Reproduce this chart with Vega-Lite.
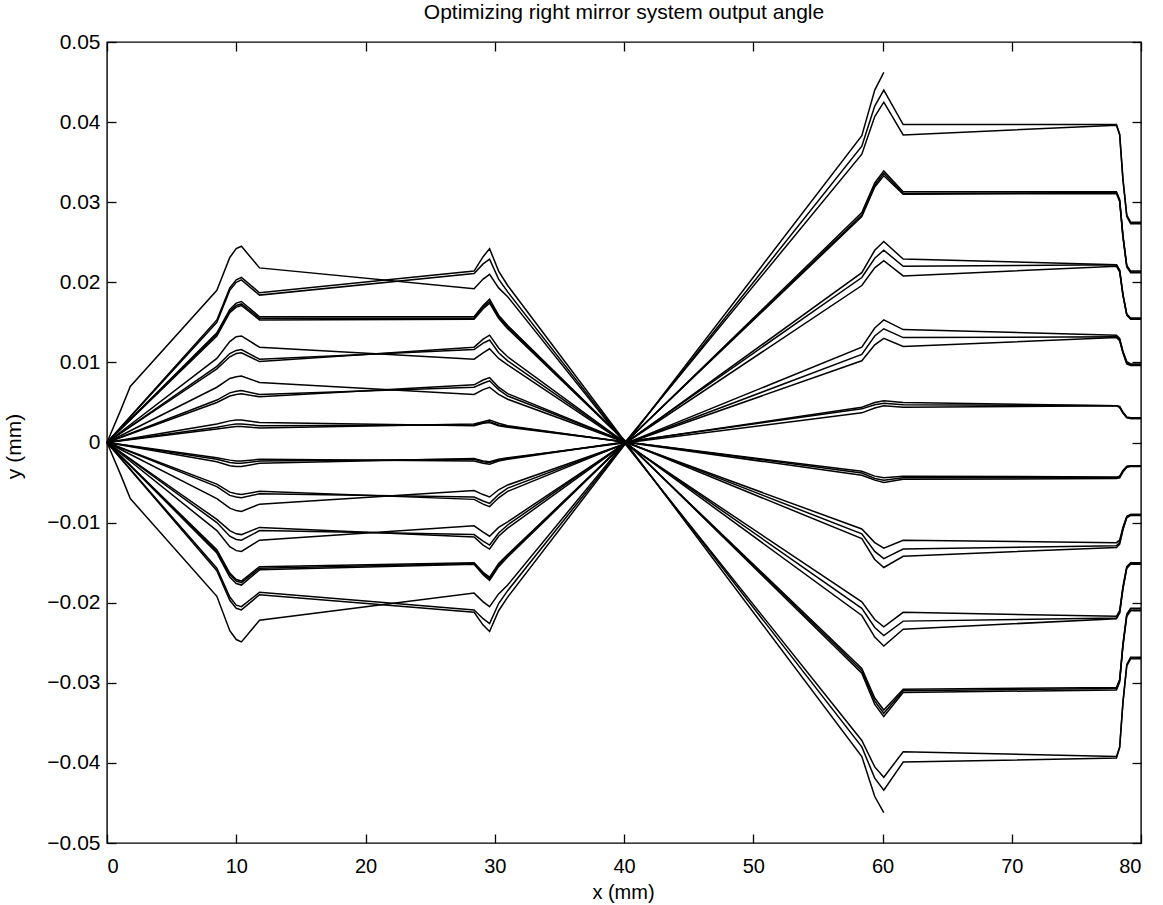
{
"$schema": "https://vega.github.io/schema/vega-lite/v6.json",
"width": 1034,
"height": 801,
"autosize": {"type": "none"},
"padding": {"left": 107, "top": 42, "right": 22, "bottom": 62},
"background": "white",
"title": {"text": "Optimizing right mirror system output angle", "fontSize": 21, "fontWeight": "normal", "font": "Liberation Sans", "color": "black", "offset": 8, "anchor": "middle"},
"data": {"values": [
{"r":"A1","x":0,"y":0},{"r":"A1","x":1.1,"y":0.0042},{"r":"A1","x":1.8,"y":0.007},{"r":"A1","x":8.5,"y":0.019},{"r":"A1","x":9.5,"y":0.0231},{"r":"A1","x":10,"y":0.0242},{"r":"A1","x":10.4,"y":0.0245},{"r":"A1","x":11.8,"y":0.0218},{"r":"A1","x":28.4,"y":0.0192},{"r":"A1","x":29.1,"y":0.0204},{"r":"A1","x":29.6,"y":0.021},{"r":"A1","x":30.3,"y":0.0193},{"r":"A1","x":31,"y":0.0182},{"r":"A1","x":58.4,"y":-0.0372},{"r":"A1","x":59.4,"y":-0.0405},{"r":"A1","x":60.1,"y":-0.0418},{"r":"A1","x":61.6,"y":-0.0386},{"r":"A1","x":78.1,"y":-0.0392},{"r":"A1","x":78.35,"y":-0.038},{"r":"A1","x":78.6,"y":-0.0325},{"r":"A1","x":78.9,"y":-0.0279},{"r":"A1","x":79.2,"y":-0.027},{"r":"A1","x":80,"y":-0.027},
{"r":"A2","x":0,"y":0},{"r":"A2","x":8.5,"y":0.0153},{"r":"A2","x":9.5,"y":0.0193},{"r":"A2","x":10,"y":0.0203},{"r":"A2","x":10.4,"y":0.0206},{"r":"A2","x":11.8,"y":0.0187},{"r":"A2","x":28.4,"y":0.0214},{"r":"A2","x":29.1,"y":0.0232},{"r":"A2","x":29.6,"y":0.0242},{"r":"A2","x":30.3,"y":0.0214},{"r":"A2","x":31,"y":0.0196},{"r":"A2","x":58.4,"y":-0.0392},{"r":"A2","x":59.4,"y":-0.0442},{"r":"A2","x":60.1,"y":-0.0462},
{"r":"A3","x":0,"y":0},{"r":"A3","x":8.5,"y":0.015},{"r":"A3","x":9.5,"y":0.019},{"r":"A3","x":10,"y":0.02},{"r":"A3","x":10.4,"y":0.0203},{"r":"A3","x":11.8,"y":0.0184},{"r":"A3","x":28.4,"y":0.0211},{"r":"A3","x":29.1,"y":0.0223},{"r":"A3","x":29.6,"y":0.0229},{"r":"A3","x":30.3,"y":0.0204},{"r":"A3","x":31,"y":0.0188},{"r":"A3","x":58.4,"y":-0.038},{"r":"A3","x":59.4,"y":-0.0419},{"r":"A3","x":60.1,"y":-0.0434},{"r":"A3","x":61.6,"y":-0.0399},{"r":"A3","x":78.1,"y":-0.0394},{"r":"A3","x":78.35,"y":-0.0381},{"r":"A3","x":78.6,"y":-0.0325},{"r":"A3","x":78.9,"y":-0.0277},{"r":"A3","x":79.2,"y":-0.0268},{"r":"A3","x":80,"y":-0.0268},
{"r":"B1","x":0,"y":0},{"r":"B1","x":8.5,"y":0.0137},{"r":"B1","x":9.5,"y":0.0166},{"r":"B1","x":10,"y":0.0174},{"r":"B1","x":10.4,"y":0.0176},{"r":"B1","x":11.8,"y":0.0157},{"r":"B1","x":28.4,"y":0.0157},{"r":"B1","x":29.1,"y":0.0171},{"r":"B1","x":29.6,"y":0.0179},{"r":"B1","x":30.3,"y":0.0159},{"r":"B1","x":31,"y":0.0146},{"r":"B1","x":58.4,"y":-0.0288},{"r":"B1","x":59.4,"y":-0.0327},{"r":"B1","x":60.1,"y":-0.0342},{"r":"B1","x":61.6,"y":-0.0312},{"r":"B1","x":78.1,"y":-0.0309},{"r":"B1","x":78.35,"y":-0.0299},{"r":"B1","x":78.6,"y":-0.0255},{"r":"B1","x":78.9,"y":-0.0217},{"r":"B1","x":79.2,"y":-0.021},{"r":"B1","x":80,"y":-0.021},
{"r":"B2","x":0,"y":0},{"r":"B2","x":8.5,"y":0.0135},{"r":"B2","x":9.5,"y":0.0164},{"r":"B2","x":10,"y":0.0171},{"r":"B2","x":10.4,"y":0.0173},{"r":"B2","x":11.8,"y":0.0155},{"r":"B2","x":28.4,"y":0.0155},{"r":"B2","x":29.1,"y":0.0169},{"r":"B2","x":29.6,"y":0.0176},{"r":"B2","x":30.3,"y":0.0157},{"r":"B2","x":31,"y":0.0144},{"r":"B2","x":58.4,"y":-0.0285},{"r":"B2","x":59.4,"y":-0.0323},{"r":"B2","x":60.1,"y":-0.0338},{"r":"B2","x":61.6,"y":-0.031},{"r":"B2","x":78.1,"y":-0.0307},{"r":"B2","x":78.35,"y":-0.0297},{"r":"B2","x":78.6,"y":-0.0253},{"r":"B2","x":78.9,"y":-0.0215},{"r":"B2","x":79.2,"y":-0.0208},{"r":"B2","x":80,"y":-0.0208},
{"r":"B3","x":0,"y":0},{"r":"B3","x":8.5,"y":0.0133},{"r":"B3","x":9.5,"y":0.0162},{"r":"B3","x":10,"y":0.0169},{"r":"B3","x":10.4,"y":0.0171},{"r":"B3","x":11.8,"y":0.0153},{"r":"B3","x":28.4,"y":0.0154},{"r":"B3","x":29.1,"y":0.0167},{"r":"B3","x":29.6,"y":0.0174},{"r":"B3","x":30.3,"y":0.0155},{"r":"B3","x":31,"y":0.0142},{"r":"B3","x":58.4,"y":-0.0282},{"r":"B3","x":59.4,"y":-0.0319},{"r":"B3","x":60.1,"y":-0.0334},{"r":"B3","x":61.6,"y":-0.0308},{"r":"B3","x":78.1,"y":-0.0306},{"r":"B3","x":78.35,"y":-0.0296},{"r":"B3","x":78.6,"y":-0.0252},{"r":"B3","x":78.9,"y":-0.0214},{"r":"B3","x":79.2,"y":-0.0207},{"r":"B3","x":80,"y":-0.0207},
{"r":"C1","x":0,"y":0},{"r":"C1","x":8.5,"y":0.0105},{"r":"C1","x":9.5,"y":0.0126},{"r":"C1","x":10,"y":0.0132},{"r":"C1","x":10.4,"y":0.0133},{"r":"C1","x":11.8,"y":0.0119},{"r":"C1","x":28.4,"y":0.0104},{"r":"C1","x":29.1,"y":0.0112},{"r":"C1","x":29.6,"y":0.0117},{"r":"C1","x":30.3,"y":0.0105},{"r":"C1","x":31,"y":0.0097},{"r":"C1","x":58.4,"y":-0.0199},{"r":"C1","x":59.4,"y":-0.0221},{"r":"C1","x":60.1,"y":-0.023},{"r":"C1","x":61.6,"y":-0.0212},{"r":"C1","x":78.1,"y":-0.0217},{"r":"C1","x":78.35,"y":-0.021},{"r":"C1","x":78.6,"y":-0.018},{"r":"C1","x":78.9,"y":-0.0155},{"r":"C1","x":79.2,"y":-0.015},{"r":"C1","x":80,"y":-0.015},
{"r":"C2","x":0,"y":0},{"r":"C2","x":8.5,"y":0.0092},{"r":"C2","x":9.5,"y":0.0107},{"r":"C2","x":10,"y":0.0111},{"r":"C2","x":10.4,"y":0.0112},{"r":"C2","x":11.8,"y":0.0101},{"r":"C2","x":28.4,"y":0.0119},{"r":"C2","x":29.1,"y":0.0129},{"r":"C2","x":29.6,"y":0.0134},{"r":"C2","x":30.3,"y":0.0118},{"r":"C2","x":31,"y":0.0107},{"r":"C2","x":58.4,"y":-0.0216},{"r":"C2","x":59.4,"y":-0.0243},{"r":"C2","x":60.1,"y":-0.0254},{"r":"C2","x":61.6,"y":-0.0233},{"r":"C2","x":78.1,"y":-0.022},{"r":"C2","x":78.35,"y":-0.0213},{"r":"C2","x":78.6,"y":-0.0183},{"r":"C2","x":78.9,"y":-0.0157},{"r":"C2","x":79.2,"y":-0.0152},{"r":"C2","x":80,"y":-0.0152},
{"r":"C3","x":0,"y":0},{"r":"C3","x":8.5,"y":0.0095},{"r":"C3","x":9.5,"y":0.0111},{"r":"C3","x":10,"y":0.0115},{"r":"C3","x":10.4,"y":0.0116},{"r":"C3","x":11.8,"y":0.0104},{"r":"C3","x":28.4,"y":0.0116},{"r":"C3","x":29.1,"y":0.0124},{"r":"C3","x":29.6,"y":0.0128},{"r":"C3","x":30.3,"y":0.0112},{"r":"C3","x":31,"y":0.0102},{"r":"C3","x":58.4,"y":-0.0207},{"r":"C3","x":59.4,"y":-0.0231},{"r":"C3","x":60.1,"y":-0.0241},{"r":"C3","x":61.6,"y":-0.0223},{"r":"C3","x":78.1,"y":-0.0219},{"r":"C3","x":78.35,"y":-0.0212},{"r":"C3","x":78.6,"y":-0.0182},{"r":"C3","x":78.9,"y":-0.0156},{"r":"C3","x":79.2,"y":-0.0151},{"r":"C3","x":80,"y":-0.0151},
{"r":"D1","x":0,"y":0},{"r":"D1","x":8.5,"y":0.0069},{"r":"D1","x":9.5,"y":0.008},{"r":"D1","x":10,"y":0.0082},{"r":"D1","x":10.4,"y":0.0083},{"r":"D1","x":11.8,"y":0.0075},{"r":"D1","x":28.4,"y":0.006},{"r":"D1","x":29.1,"y":0.0066},{"r":"D1","x":29.6,"y":0.0069},{"r":"D1","x":30.3,"y":0.006},{"r":"D1","x":31,"y":0.0054},{"r":"D1","x":58.4,"y":-0.0108},{"r":"D1","x":59.4,"y":-0.0125},{"r":"D1","x":60.1,"y":-0.0132},{"r":"D1","x":61.6,"y":-0.0122},{"r":"D1","x":78.1,"y":-0.0125},{"r":"D1","x":78.35,"y":-0.0122},{"r":"D1","x":78.6,"y":-0.0106},{"r":"D1","x":78.9,"y":-0.0092},{"r":"D1","x":79.2,"y":-0.009},{"r":"D1","x":80,"y":-0.009},
{"r":"D2","x":0,"y":0},{"r":"D2","x":8.5,"y":0.005},{"r":"D2","x":9.5,"y":0.0058},{"r":"D2","x":10,"y":0.006},{"r":"D2","x":10.4,"y":0.0061},{"r":"D2","x":11.8,"y":0.0057},{"r":"D2","x":28.4,"y":0.0072},{"r":"D2","x":29.1,"y":0.0078},{"r":"D2","x":29.6,"y":0.0081},{"r":"D2","x":30.3,"y":0.0069},{"r":"D2","x":31,"y":0.0061},{"r":"D2","x":58.4,"y":-0.012},{"r":"D2","x":59.4,"y":-0.0146},{"r":"D2","x":60.1,"y":-0.0156},{"r":"D2","x":61.6,"y":-0.0142},{"r":"D2","x":78.1,"y":-0.0131},{"r":"D2","x":78.35,"y":-0.0127},{"r":"D2","x":78.6,"y":-0.0109},{"r":"D2","x":78.9,"y":-0.0094},{"r":"D2","x":79.2,"y":-0.0091},{"r":"D2","x":80,"y":-0.0091},
{"r":"D3","x":0,"y":0},{"r":"D3","x":8.5,"y":0.0053},{"r":"D3","x":9.5,"y":0.0062},{"r":"D3","x":10,"y":0.0064},{"r":"D3","x":10.4,"y":0.0065},{"r":"D3","x":11.8,"y":0.006},{"r":"D3","x":28.4,"y":0.0069},{"r":"D3","x":29.1,"y":0.0074},{"r":"D3","x":29.6,"y":0.0077},{"r":"D3","x":30.3,"y":0.0066},{"r":"D3","x":31,"y":0.0058},{"r":"D3","x":58.4,"y":-0.0114},{"r":"D3","x":59.4,"y":-0.0136},{"r":"D3","x":60.1,"y":-0.0145},{"r":"D3","x":61.6,"y":-0.0133},{"r":"D3","x":78.1,"y":-0.0129},{"r":"D3","x":78.35,"y":-0.0125},{"r":"D3","x":78.6,"y":-0.0108},{"r":"D3","x":78.9,"y":-0.0093},{"r":"D3","x":79.2,"y":-0.009},{"r":"D3","x":80,"y":-0.009},
{"r":"E1","x":0,"y":0},{"r":"E1","x":8.5,"y":0.0023},{"r":"E1","x":9.5,"y":0.0027},{"r":"E1","x":10,"y":0.0028},{"r":"E1","x":10.4,"y":0.0028},{"r":"E1","x":11.8,"y":0.0025},{"r":"E1","x":28.4,"y":0.0021},{"r":"E1","x":29.1,"y":0.0024},{"r":"E1","x":29.6,"y":0.0025},{"r":"E1","x":30.3,"y":0.0021},{"r":"E1","x":31,"y":0.0019},{"r":"E1","x":58.4,"y":-0.0036},{"r":"E1","x":59.4,"y":-0.0042},{"r":"E1","x":60.1,"y":-0.0044},{"r":"E1","x":61.6,"y":-0.0042},{"r":"E1","x":78.1,"y":-0.0043},{"r":"E1","x":78.35,"y":-0.0042},{"r":"E1","x":78.6,"y":-0.0035},{"r":"E1","x":78.9,"y":-0.003},{"r":"E1","x":79.2,"y":-0.0029},{"r":"E1","x":80,"y":-0.0029},
{"r":"E2","x":0,"y":0},{"r":"E2","x":8.5,"y":0.0017},{"r":"E2","x":9.5,"y":0.0019},{"r":"E2","x":10,"y":0.002},{"r":"E2","x":10.4,"y":0.002},{"r":"E2","x":11.8,"y":0.0018},{"r":"E2","x":28.4,"y":0.0023},{"r":"E2","x":29.1,"y":0.0026},{"r":"E2","x":29.6,"y":0.0028},{"r":"E2","x":30.3,"y":0.0024},{"r":"E2","x":31,"y":0.0021},{"r":"E2","x":58.4,"y":-0.0041},{"r":"E2","x":59.4,"y":-0.0047},{"r":"E2","x":60.1,"y":-0.005},{"r":"E2","x":61.6,"y":-0.0046},{"r":"E2","x":78.1,"y":-0.0045},{"r":"E2","x":78.35,"y":-0.0044},{"r":"E2","x":78.6,"y":-0.0037},{"r":"E2","x":78.9,"y":-0.0031},{"r":"E2","x":79.2,"y":-0.003},{"r":"E2","x":80,"y":-0.003},
{"r":"E3","x":0,"y":0},{"r":"E3","x":8.5,"y":0.0019},{"r":"E3","x":9.5,"y":0.0022},{"r":"E3","x":10,"y":0.0023},{"r":"E3","x":10.4,"y":0.0023},{"r":"E3","x":11.8,"y":0.0021},{"r":"E3","x":28.4,"y":0.0022},{"r":"E3","x":29.1,"y":0.0025},{"r":"E3","x":29.6,"y":0.0026},{"r":"E3","x":30.3,"y":0.0022},{"r":"E3","x":31,"y":0.002},{"r":"E3","x":58.4,"y":-0.0038},{"r":"E3","x":59.4,"y":-0.0045},{"r":"E3","x":60.1,"y":-0.0047},{"r":"E3","x":61.6,"y":-0.0044},{"r":"E3","x":78.1,"y":-0.0044},{"r":"E3","x":78.35,"y":-0.0043},{"r":"E3","x":78.6,"y":-0.0036},{"r":"E3","x":78.9,"y":-0.003},{"r":"E3","x":79.2,"y":-0.0029},{"r":"E3","x":80,"y":-0.0029},
{"r":"F1","x":0,"y":0},{"r":"F1","x":8.5,"y":-0.0019},{"r":"F1","x":9.5,"y":-0.0022},{"r":"F1","x":10,"y":-0.0023},{"r":"F1","x":10.4,"y":-0.0023},{"r":"F1","x":11.8,"y":-0.0021},{"r":"F1","x":28.4,"y":-0.0023},{"r":"F1","x":29.1,"y":-0.0026},{"r":"F1","x":29.6,"y":-0.0027},{"r":"F1","x":30.3,"y":-0.0023},{"r":"F1","x":31,"y":-0.0021},{"r":"F1","x":58.4,"y":0.0044},{"r":"F1","x":59.4,"y":0.005},{"r":"F1","x":60.1,"y":0.0052},{"r":"F1","x":61.6,"y":0.005},{"r":"F1","x":78.1,"y":0.0046},{"r":"F1","x":78.35,"y":0.0045},{"r":"F1","x":78.6,"y":0.0038},{"r":"F1","x":78.9,"y":0.0032},{"r":"F1","x":79.2,"y":0.0031},{"r":"F1","x":80,"y":0.0031},
{"r":"F2","x":0,"y":0},{"r":"F2","x":8.5,"y":-0.0024},{"r":"F2","x":9.5,"y":-0.0029},{"r":"F2","x":10,"y":-0.003},{"r":"F2","x":10.4,"y":-0.003},{"r":"F2","x":11.8,"y":-0.0026},{"r":"F2","x":28.4,"y":-0.002},{"r":"F2","x":29.1,"y":-0.0023},{"r":"F2","x":29.6,"y":-0.0024},{"r":"F2","x":30.3,"y":-0.0021},{"r":"F2","x":31,"y":-0.0019},{"r":"F2","x":58.4,"y":0.0037},{"r":"F2","x":59.4,"y":0.0043},{"r":"F2","x":60.1,"y":0.0046},{"r":"F2","x":61.6,"y":0.0044},{"r":"F2","x":78.1,"y":0.0046},{"r":"F2","x":78.35,"y":0.0044},{"r":"F2","x":78.6,"y":0.0037},{"r":"F2","x":78.9,"y":0.0031},{"r":"F2","x":79.2,"y":0.003},{"r":"F2","x":80,"y":0.003},
{"r":"F3","x":0,"y":0},{"r":"F3","x":8.5,"y":-0.0021},{"r":"F3","x":9.5,"y":-0.0025},{"r":"F3","x":10,"y":-0.0026},{"r":"F3","x":10.4,"y":-0.0026},{"r":"F3","x":11.8,"y":-0.0023},{"r":"F3","x":28.4,"y":-0.0021},{"r":"F3","x":29.1,"y":-0.0024},{"r":"F3","x":29.6,"y":-0.0025},{"r":"F3","x":30.3,"y":-0.0022},{"r":"F3","x":31,"y":-0.002},{"r":"F3","x":58.4,"y":0.0042},{"r":"F3","x":59.4,"y":0.0047},{"r":"F3","x":60.1,"y":0.0049},{"r":"F3","x":61.6,"y":0.0047},{"r":"F3","x":78.1,"y":0.0046},{"r":"F3","x":78.35,"y":0.0044},{"r":"F3","x":78.6,"y":0.0037},{"r":"F3","x":78.9,"y":0.0031},{"r":"F3","x":79.2,"y":0.003},{"r":"F3","x":80,"y":0.003},
{"r":"G1","x":0,"y":0},{"r":"G1","x":8.5,"y":-0.0052},{"r":"G1","x":9.5,"y":-0.0062},{"r":"G1","x":10,"y":-0.0064},{"r":"G1","x":10.4,"y":-0.0065},{"r":"G1","x":11.8,"y":-0.0061},{"r":"G1","x":28.4,"y":-0.0071},{"r":"G1","x":29.1,"y":-0.0077},{"r":"G1","x":29.6,"y":-0.008},{"r":"G1","x":30.3,"y":-0.0069},{"r":"G1","x":31,"y":-0.0061},{"r":"G1","x":58.4,"y":0.0119},{"r":"G1","x":59.4,"y":0.0143},{"r":"G1","x":60.1,"y":0.0153},{"r":"G1","x":61.6,"y":0.0141},{"r":"G1","x":78.1,"y":0.0134},{"r":"G1","x":78.35,"y":0.013},{"r":"G1","x":78.6,"y":0.0114},{"r":"G1","x":78.9,"y":0.0101},{"r":"G1","x":79.2,"y":0.0098},{"r":"G1","x":80,"y":0.0098},
{"r":"G2","x":0,"y":0},{"r":"G2","x":8.5,"y":-0.007},{"r":"G2","x":9.5,"y":-0.0082},{"r":"G2","x":10,"y":-0.0085},{"r":"G2","x":10.4,"y":-0.0086},{"r":"G2","x":11.8,"y":-0.0077},{"r":"G2","x":28.4,"y":-0.006},{"r":"G2","x":29.1,"y":-0.0065},{"r":"G2","x":29.6,"y":-0.0068},{"r":"G2","x":30.3,"y":-0.0059},{"r":"G2","x":31,"y":-0.0053},{"r":"G2","x":58.4,"y":0.0102},{"r":"G2","x":59.4,"y":0.0122},{"r":"G2","x":60.1,"y":0.013},{"r":"G2","x":61.6,"y":0.012},{"r":"G2","x":78.1,"y":0.0131},{"r":"G2","x":78.35,"y":0.0127},{"r":"G2","x":78.6,"y":0.0112},{"r":"G2","x":78.9,"y":0.0098},{"r":"G2","x":79.2,"y":0.0096},{"r":"G2","x":80,"y":0.0096},
{"r":"G3","x":0,"y":0},{"r":"G3","x":8.5,"y":-0.0055},{"r":"G3","x":9.5,"y":-0.0066},{"r":"G3","x":10,"y":-0.0068},{"r":"G3","x":10.4,"y":-0.0069},{"r":"G3","x":11.8,"y":-0.0064},{"r":"G3","x":28.4,"y":-0.0068},{"r":"G3","x":29.1,"y":-0.0073},{"r":"G3","x":29.6,"y":-0.0076},{"r":"G3","x":30.3,"y":-0.0065},{"r":"G3","x":31,"y":-0.0057},{"r":"G3","x":58.4,"y":0.011},{"r":"G3","x":59.4,"y":0.0133},{"r":"G3","x":60.1,"y":0.0142},{"r":"G3","x":61.6,"y":0.0131},{"r":"G3","x":78.1,"y":0.0132},{"r":"G3","x":78.35,"y":0.0128},{"r":"G3","x":78.6,"y":0.0113},{"r":"G3","x":78.9,"y":0.0099},{"r":"G3","x":79.2,"y":0.0097},{"r":"G3","x":80,"y":0.0097},
{"r":"H1","x":0,"y":0},{"r":"H1","x":8.5,"y":-0.0096},{"r":"H1","x":9.5,"y":-0.011},{"r":"H1","x":10,"y":-0.0114},{"r":"H1","x":10.4,"y":-0.0115},{"r":"H1","x":11.8,"y":-0.0106},{"r":"H1","x":28.4,"y":-0.0118},{"r":"H1","x":29.1,"y":-0.0128},{"r":"H1","x":29.6,"y":-0.0133},{"r":"H1","x":30.3,"y":-0.0117},{"r":"H1","x":31,"y":-0.0107},{"r":"H1","x":58.4,"y":0.0212},{"r":"H1","x":59.4,"y":0.024},{"r":"H1","x":60.1,"y":0.0251},{"r":"H1","x":61.6,"y":0.0229},{"r":"H1","x":78.1,"y":0.0222},{"r":"H1","x":78.35,"y":0.0215},{"r":"H1","x":78.6,"y":0.0185},{"r":"H1","x":78.9,"y":0.016},{"r":"H1","x":79.2,"y":0.0155},{"r":"H1","x":80,"y":0.0155},
{"r":"H2","x":0,"y":0},{"r":"H2","x":8.5,"y":-0.011},{"r":"H2","x":9.5,"y":-0.013},{"r":"H2","x":10,"y":-0.0135},{"r":"H2","x":10.4,"y":-0.0136},{"r":"H2","x":11.8,"y":-0.0122},{"r":"H2","x":28.4,"y":-0.0104},{"r":"H2","x":29.1,"y":-0.0112},{"r":"H2","x":29.6,"y":-0.0117},{"r":"H2","x":30.3,"y":-0.0106},{"r":"H2","x":31,"y":-0.0099},{"r":"H2","x":58.4,"y":0.0196},{"r":"H2","x":59.4,"y":0.0218},{"r":"H2","x":60.1,"y":0.0227},{"r":"H2","x":61.6,"y":0.0208},{"r":"H2","x":78.1,"y":0.022},{"r":"H2","x":78.35,"y":0.0213},{"r":"H2","x":78.6,"y":0.0184},{"r":"H2","x":78.9,"y":0.0159},{"r":"H2","x":79.2,"y":0.0154},{"r":"H2","x":80,"y":0.0154},
{"r":"H3","x":0,"y":0},{"r":"H3","x":8.5,"y":-0.01},{"r":"H3","x":9.5,"y":-0.0117},{"r":"H3","x":10,"y":-0.0121},{"r":"H3","x":10.4,"y":-0.0122},{"r":"H3","x":11.8,"y":-0.011},{"r":"H3","x":28.4,"y":-0.0115},{"r":"H3","x":29.1,"y":-0.0123},{"r":"H3","x":29.6,"y":-0.0128},{"r":"H3","x":30.3,"y":-0.0113},{"r":"H3","x":31,"y":-0.0103},{"r":"H3","x":58.4,"y":0.0206},{"r":"H3","x":59.4,"y":0.023},{"r":"H3","x":60.1,"y":0.024},{"r":"H3","x":61.6,"y":0.022},{"r":"H3","x":78.1,"y":0.0222},{"r":"H3","x":78.35,"y":0.0215},{"r":"H3","x":78.6,"y":0.0185},{"r":"H3","x":78.9,"y":0.016},{"r":"H3","x":79.2,"y":0.0155},{"r":"H3","x":80,"y":0.0155},
{"r":"I1","x":0,"y":0},{"r":"I1","x":8.5,"y":-0.0138},{"r":"I1","x":9.5,"y":-0.0168},{"r":"I1","x":10,"y":-0.0176},{"r":"I1","x":10.4,"y":-0.0178},{"r":"I1","x":11.8,"y":-0.0159},{"r":"I1","x":28.4,"y":-0.0152},{"r":"I1","x":29.1,"y":-0.0165},{"r":"I1","x":29.6,"y":-0.0172},{"r":"I1","x":30.3,"y":-0.0155},{"r":"I1","x":31,"y":-0.0143},{"r":"I1","x":58.4,"y":0.0287},{"r":"I1","x":59.4,"y":0.0324},{"r":"I1","x":60.1,"y":0.0339},{"r":"I1","x":61.6,"y":0.0313},{"r":"I1","x":78.1,"y":0.0313},{"r":"I1","x":78.35,"y":0.0303},{"r":"I1","x":78.6,"y":0.0259},{"r":"I1","x":78.9,"y":0.0221},{"r":"I1","x":79.2,"y":0.0214},{"r":"I1","x":80,"y":0.0214},
{"r":"I2","x":0,"y":0},{"r":"I2","x":8.5,"y":-0.0136},{"r":"I2","x":9.5,"y":-0.0165},{"r":"I2","x":10,"y":-0.0173},{"r":"I2","x":10.4,"y":-0.0175},{"r":"I2","x":11.8,"y":-0.0157},{"r":"I2","x":28.4,"y":-0.0151},{"r":"I2","x":29.1,"y":-0.0163},{"r":"I2","x":29.6,"y":-0.017},{"r":"I2","x":30.3,"y":-0.0153},{"r":"I2","x":31,"y":-0.0141},{"r":"I2","x":58.4,"y":0.0284},{"r":"I2","x":59.4,"y":0.0321},{"r":"I2","x":60.1,"y":0.0336},{"r":"I2","x":61.6,"y":0.0311},{"r":"I2","x":78.1,"y":0.0312},{"r":"I2","x":78.35,"y":0.0302},{"r":"I2","x":78.6,"y":0.0258},{"r":"I2","x":78.9,"y":0.022},{"r":"I2","x":79.2,"y":0.0213},{"r":"I2","x":80,"y":0.0213},
{"r":"I3","x":0,"y":0},{"r":"I3","x":8.5,"y":-0.0134},{"r":"I3","x":9.5,"y":-0.0163},{"r":"I3","x":10,"y":-0.0171},{"r":"I3","x":10.4,"y":-0.0173},{"r":"I3","x":11.8,"y":-0.0155},{"r":"I3","x":28.4,"y":-0.015},{"r":"I3","x":29.1,"y":-0.0162},{"r":"I3","x":29.6,"y":-0.0168},{"r":"I3","x":30.3,"y":-0.0151},{"r":"I3","x":31,"y":-0.014},{"r":"I3","x":58.4,"y":0.0282},{"r":"I3","x":59.4,"y":0.0319},{"r":"I3","x":60.1,"y":0.0333},{"r":"I3","x":61.6,"y":0.031},{"r":"I3","x":78.1,"y":0.0311},{"r":"I3","x":78.35,"y":0.0301},{"r":"I3","x":78.6,"y":0.0257},{"r":"I3","x":78.9,"y":0.0219},{"r":"I3","x":79.2,"y":0.0212},{"r":"I3","x":80,"y":0.0212},
{"r":"J1","x":0,"y":0},{"r":"J1","x":1.1,"y":-0.0042},{"r":"J1","x":1.8,"y":-0.007},{"r":"J1","x":8.5,"y":-0.0192},{"r":"J1","x":9.5,"y":-0.0235},{"r":"J1","x":10,"y":-0.0246},{"r":"J1","x":10.4,"y":-0.0249},{"r":"J1","x":11.8,"y":-0.0222},{"r":"J1","x":28.4,"y":-0.0188},{"r":"J1","x":29.1,"y":-0.0199},{"r":"J1","x":29.6,"y":-0.0205},{"r":"J1","x":30.3,"y":-0.0189},{"r":"J1","x":31,"y":-0.0178},{"r":"J1","x":58.4,"y":0.036},{"r":"J1","x":59.4,"y":0.0407},{"r":"J1","x":60.1,"y":0.0425},{"r":"J1","x":61.6,"y":0.0384},{"r":"J1","x":78.1,"y":0.0396},{"r":"J1","x":78.35,"y":0.0384},{"r":"J1","x":78.6,"y":0.0328},{"r":"J1","x":78.9,"y":0.0282},{"r":"J1","x":79.2,"y":0.0273},{"r":"J1","x":80,"y":0.0273},
{"r":"J2","x":0,"y":0},{"r":"J2","x":8.5,"y":-0.016},{"r":"J2","x":9.5,"y":-0.0197},{"r":"J2","x":10,"y":-0.0207},{"r":"J2","x":10.4,"y":-0.0209},{"r":"J2","x":11.8,"y":-0.019},{"r":"J2","x":28.4,"y":-0.0212},{"r":"J2","x":29.1,"y":-0.0228},{"r":"J2","x":29.6,"y":-0.0236},{"r":"J2","x":30.3,"y":-0.021},{"r":"J2","x":31,"y":-0.0193},{"r":"J2","x":58.4,"y":0.0383},{"r":"J2","x":59.4,"y":0.044},{"r":"J2","x":60.1,"y":0.0462},
{"r":"J3","x":0,"y":0},{"r":"J3","x":8.5,"y":-0.0157},{"r":"J3","x":9.5,"y":-0.0193},{"r":"J3","x":10,"y":-0.0203},{"r":"J3","x":10.4,"y":-0.0205},{"r":"J3","x":11.8,"y":-0.0187},{"r":"J3","x":28.4,"y":-0.0209},{"r":"J3","x":29.1,"y":-0.022},{"r":"J3","x":29.6,"y":-0.0226},{"r":"J3","x":30.3,"y":-0.0201},{"r":"J3","x":31,"y":-0.0185},{"r":"J3","x":58.4,"y":0.037},{"r":"J3","x":59.4,"y":0.042},{"r":"J3","x":60.1,"y":0.044},{"r":"J3","x":61.6,"y":0.0397},{"r":"J3","x":78.1,"y":0.0397},{"r":"J3","x":78.35,"y":0.0385},{"r":"J3","x":78.6,"y":0.033},{"r":"J3","x":78.9,"y":0.0284},{"r":"J3","x":79.2,"y":0.0275},{"r":"J3","x":80,"y":0.0275}
]},
"layer": [
{"mark": {"type": "line", "color": "black", "strokeWidth": 1.5},
 "encoding": {
  "x": {"field": "x", "type": "quantitative", "scale": {"domain": [0, 80], "nice": false, "zero": false},
        "axis": {"orient": "bottom", "values": [0,10,20,30,40,50,60,70,80], "format": "d", "grid": false, "domain": false, "tickSize": -9, "tickColor": "black", "labelPadding": 22, "labelFontSize": 20, "labelFont": "Liberation Sans", "labelColor": "black", "title": "x (mm)", "titleFontSize": 20, "titleFont": "Liberation Sans", "titleFontWeight": "normal", "titleColor": "black", "titleX": 516, "titleY": 49, "titleBaseline": "middle"}},
  "y": {"field": "y", "type": "quantitative", "scale": {"domain": [-0.05, 0.05], "nice": false, "zero": false},
        "axis": {"orient": "left", "values": [-0.05,-0.04,-0.03,-0.02,-0.01,0,0.01,0.02,0.03,0.04,0.05], "format": ".2~f", "grid": false, "domain": false, "tickSize": -9, "tickColor": "black", "labelPadding": 16, "labelFontSize": 21, "labelFont": "Liberation Sans", "labelColor": "black", "title": "y (mm)", "titleFontSize": 21, "titleFont": "Liberation Sans", "titleFontWeight": "normal", "titleColor": "black", "titleX": -93, "titleY": 404, "titleAngle": -90, "titleBaseline": "middle", "titleAlign": "center"}},
  "detail": {"field": "r", "type": "nominal"}
 }},
{"mark": {"type": "line", "opacity": 0},
 "encoding": {
  "x": {"field": "x", "type": "quantitative", "scale": {"domain": [0, 80], "nice": false, "zero": false},
        "axis": {"orient": "top", "values": [0,10,20,30,40,50,60,70,80], "labels": false, "title": null, "grid": false, "domain": false, "tickSize": -9, "tickColor": "black"}},
  "y": {"field": "y", "type": "quantitative", "scale": {"domain": [-0.05, 0.05], "nice": false, "zero": false},
        "axis": {"orient": "right", "values": [-0.05,-0.04,-0.03,-0.02,-0.01,0,0.01,0.02,0.03,0.04,0.05], "labels": false, "title": null, "grid": false, "domain": false, "tickSize": -9, "tickColor": "black"}},
  "detail": {"field": "r", "type": "nominal"}
 }}
],
"resolve": {"axis": {"x": "independent", "y": "independent"}},
"config": {"view": {"stroke": "black", "strokeWidth": 1.4}, "axis": {"tickWidth": 1.3}}
}
